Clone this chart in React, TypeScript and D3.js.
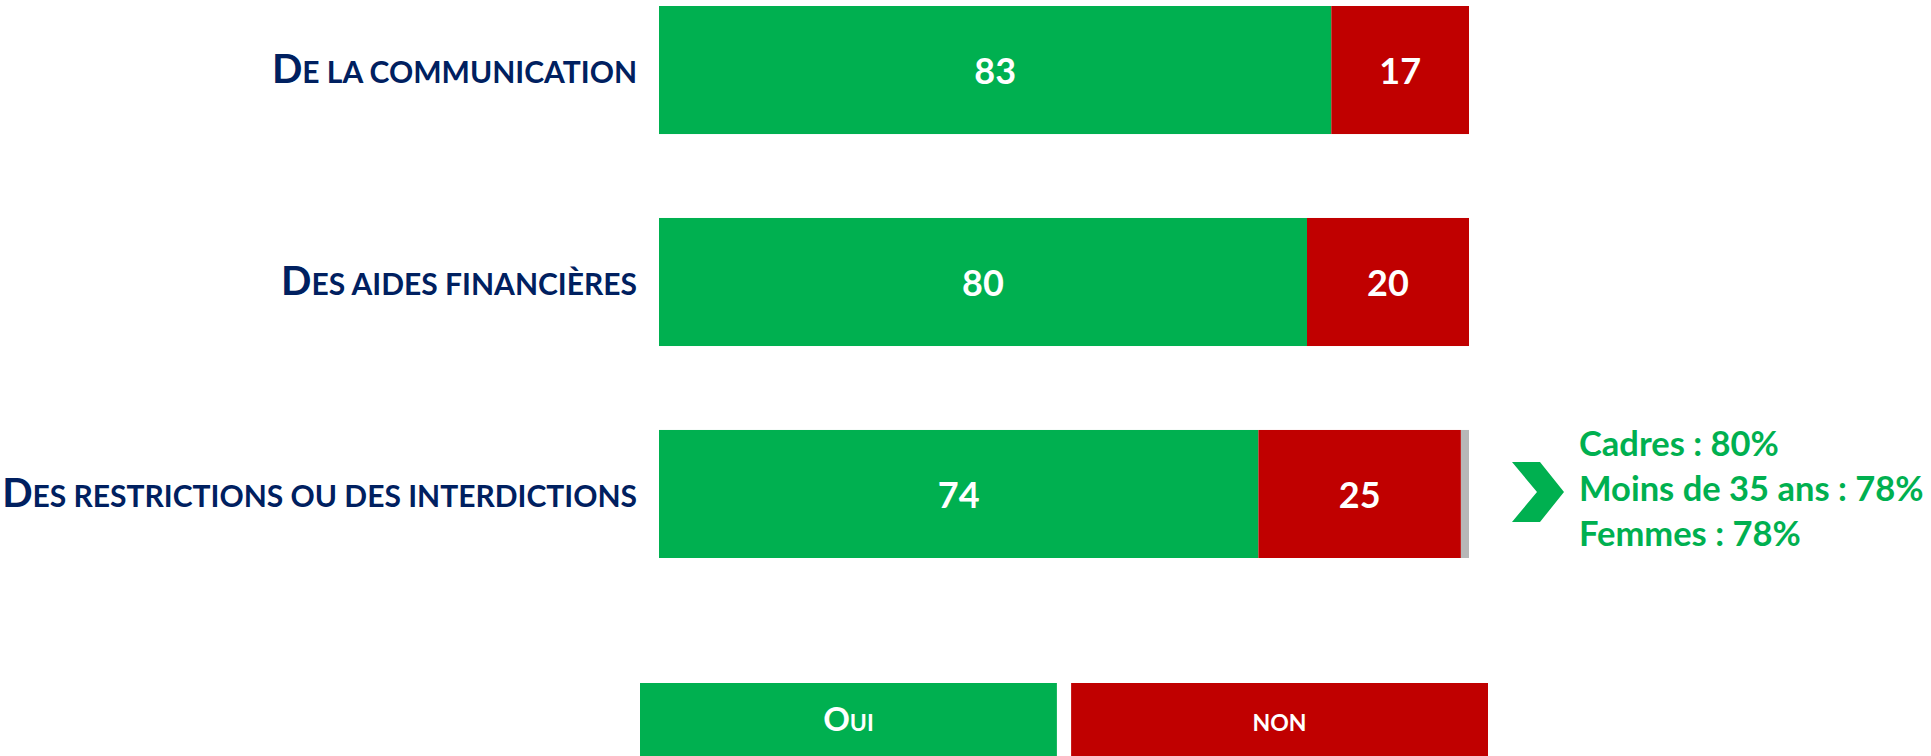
import React from "react";
import * as d3 from "d3";

const categories = [
  "De la communication",
  "Des aides financières",
  "Des restrictions ou des interdictions",
];
const oui = [83, 80, 74];
const non = [17, 20, 25];
const nsp = [0, 0, 1];
const seriesNames = ["Oui", "non"];
const notes = ["Cadres : 80%", "Moins de 35 ans : 78%", "Femmes : 78%"];

const GREEN = "#00b050";
const RED = "#c00000";
const GREY = "#b7b7b7";
const NAVY = "#002060";
const FONT = "Lato, 'Open Sans', sans-serif";

const W = 1931;
const H = 756;

// fake small caps: capitals stay big, lower-case letters become smaller capitals
function smallCaps(text: string, big: number, small: number) {
  const parts: { t: string; s: number }[] = [];
  for (const ch of text) {
    const isUpper = ch !== ch.toLowerCase();
    const s = isUpper ? big : small;
    const t = ch.toUpperCase();
    if (parts.length && parts[parts.length - 1].s === s) parts[parts.length - 1].t += t;
    else parts.push({ t, s });
  }
  return parts.map((p, i) => (
    <tspan key={i} fontSize={p.s}>
      {p.t}
    </tspan>
  ));
}

export default function App() {
  const x = d3.scaleLinear().domain([0, 100]).range([659, 1469]);
  const y = d3
    .scaleBand<string>()
    .domain(categories)
    .range([6, 558])
    .paddingInner(0.396)
    .paddingOuter(0);

  const rows = categories.map((c, i) => [oui[i], non[i], nsp[i]]);
  const stack = d3.stack<number[]>().keys(["0", "1", "2"]).value((d, k) => d[+k]);
  const stacked = stack(rows);
  const colors = [GREEN, RED, GREY];

  const legendX = d3.scaleBand<string>().domain(seriesNames).range([640, 1488]).paddingInner(0.033);

  const lastY = (y(categories[2]) ?? 0) + y.bandwidth() / 2;

  return (
    <svg
      width={W}
      height={H}
      style={{ position: "absolute", left: 0, top: 0, display: "block" }}
      fontFamily={FONT}
    >
      {stacked.map((layer, li) => (
        <g key={li}>
          {layer.map((seg, i) => {
            const w = x(seg[1]) - x(seg[0]);
            if (w <= 0) return null;
            return (
              <rect
                key={i}
                x={x(seg[0])}
                y={y(categories[i])}
                width={w}
                height={y.bandwidth()}
                fill={colors[li]}
              />
            );
          })}
          {li < 2 &&
            layer.map((seg, i) => (
              <text
                key={"t" + i}
                x={(x(seg[0]) + x(seg[1])) / 2}
                y={(y(categories[i]) ?? 0) + y.bandwidth() / 2}
                dy="0.38em"
                textAnchor="middle"
                fill="#fff"
                fontWeight={700}
                fontSize={36}
              >
                {seg[1] - seg[0]}
              </text>
            ))}
        </g>
      ))}

      {categories.map((c) => (
        <text
          key={c}
          x={637}
          y={(y(c) ?? 0) + y.bandwidth() / 2 + 13}
          textAnchor="end"
          fill={NAVY}
          fontWeight={700}
        >
          {smallCaps(c, 40, 30)}
        </text>
      ))}

      <path
        d={`M1512,${lastY - 32} L1540,${lastY - 32} L1564,${lastY - 2} L1540,${lastY + 28} L1512,${lastY + 28} L1537,${lastY - 2} Z`}
        fill={GREEN}
      />
      {notes.map((n, i) => (
        <text
          key={n}
          x={1579}
          y={456 + i * 45}
          fill={GREEN}
          fontWeight={700}
          fontSize={34.5}
        >
          {n}
        </text>
      ))}

      {seriesNames.map((s, i) => (
        <g key={s}>
          <rect
            x={legendX(s)}
            y={683}
            width={legendX.bandwidth()}
            height={H - 683}
            fill={i === 0 ? GREEN : RED}
          />
          <text
            x={(legendX(s) ?? 0) + legendX.bandwidth() / 2}
            y={731}
            textAnchor="middle"
            fill="#fff"
            fontWeight={700}
          >
            {smallCaps(s, 33, 23)}
          </text>
        </g>
      ))}
    </svg>
  );
}
